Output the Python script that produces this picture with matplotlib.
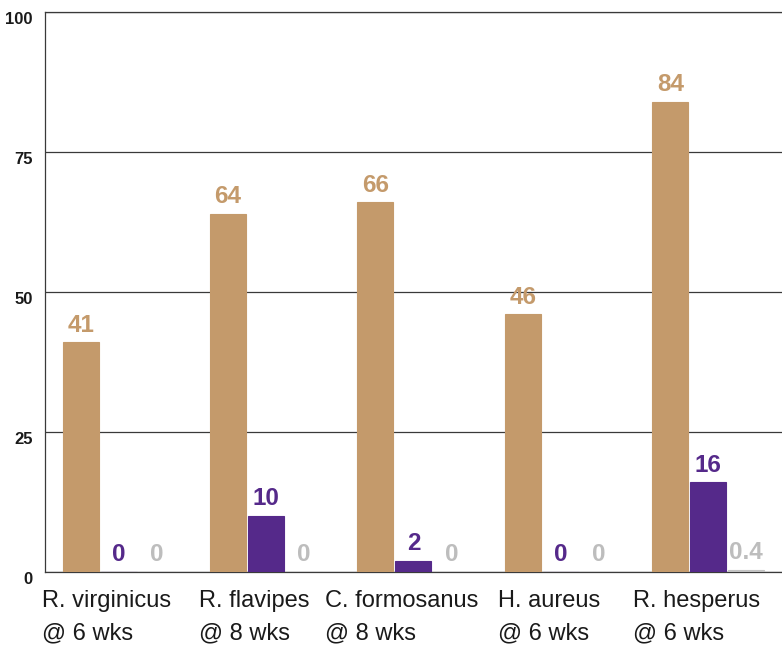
import matplotlib.pyplot as plt
import numpy as np

# groups and three series (percent)
species = ["R. virginicus\n@ 6 wks", "R. flavipes\n@ 8 wks", "C. formosanus\n@ 8 wks",
           "H. aureus\n@ 6 wks", "R. hesperus\n@ 6 wks"]
tan_vals = [41, 64, 66, 46, 84]
purple_vals = [0, 10, 2, 0, 16]
grey_vals = [0, 0, 0, 0, 0.4]
y_ticks = [0, 25, 50, 75, 100]

colors = ["#C49A6B", "#55298A", "#C2C2C2"]
label_colors = ["#C49A6B", "#55298A", "#BDBDBD"]
font = ["Liberation Sans", "DejaVu Sans"]

fig = plt.figure(figsize=(7.82, 6.54), dpi=100)
ax = fig.add_axes([0.0575, 0.1254, 0.9425, 0.8563])

x = np.arange(len(species))
w = 0.244
step = 0.258
series = [tan_vals, purple_vals, grey_vals]
for k, vals in enumerate(series):
    xs = x + (k - 1) * step
    ax.bar(xs, vals, width=w, color=colors[k], edgecolor=colors[k], linewidth=0.8, zorder=3)
    for xi, v in zip(xs, vals):
        ax.annotate(f"{v:g}", (xi, v), xytext=(0, 4), textcoords="offset points",
                    ha="center", va="bottom", fontsize=17.5, fontweight="bold",
                    color=label_colors[k], family=font, zorder=4)

ax.set_xlim(-0.5, len(species) - 0.5)
ax.set_ylim(0, 100)
ax.set_yticks(y_ticks)
ax.set_yticklabels([str(t) for t in y_ticks], fontsize=12, fontweight="bold", family=font,
                   color="#1a1a1a")
for lbl in ax.get_yticklabels():
    lbl.set_va("top")
ax.yaxis.grid(True, color="#3a3a3a", linewidth=0.9, zorder=0)
ax.tick_params(axis="y", length=0, pad=9)
ax.tick_params(axis="x", length=0)
ax.set_xticks([])

for i, name in enumerate(species):
    ax.text(i - 0.08, -3.2, name, ha="center", va="top", multialignment="left",
            fontsize=17, family=font, color="#1a1a1a", linespacing=1.6)

ax.spines["right"].set_visible(False)
for s in ["left", "top", "bottom"]:
    ax.spines[s].set_color("#3a3a3a")
    ax.spines[s].set_linewidth(0.9)

fig.savefig("out.png", dpi=100)
